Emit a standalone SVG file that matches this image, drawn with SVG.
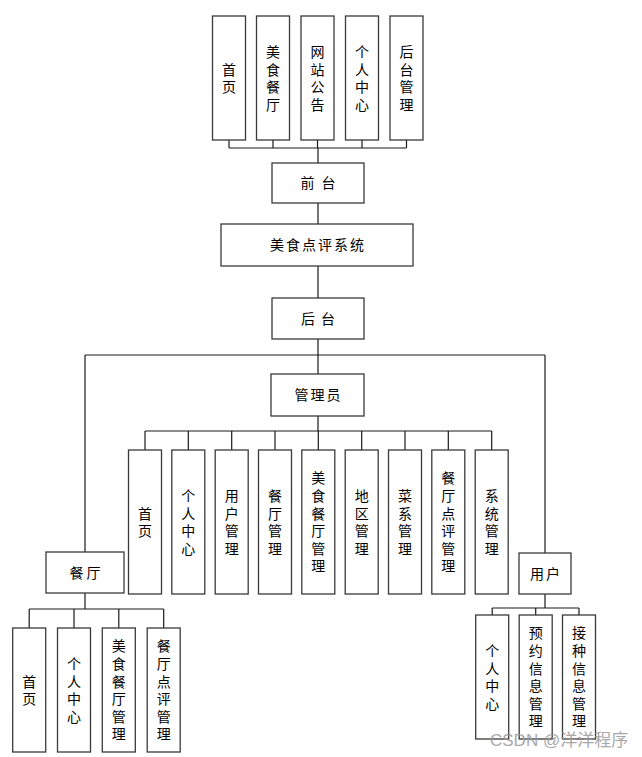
<svg xmlns="http://www.w3.org/2000/svg" width="642" height="757" viewBox="0 0 642 757">
<style>
.box{fill:#fff;stroke:#3a3a3a;stroke-width:1.3}
.t{font-family:"Noto Sans CJK SC","Noto Sans CJK JP",sans-serif;font-size:14px;fill:#000;text-anchor:middle}
.v{font-family:"Noto Sans CJK SC","Noto Sans CJK JP",sans-serif;font-size:14px;fill:#000;text-anchor:middle;writing-mode:vertical-rl;letter-spacing:3.6px}
.c{fill:none;stroke:#1a1a1a;stroke-width:1.2}
.wm{font-family:"Liberation Sans","Noto Sans CJK SC",sans-serif;font-size:17px;fill:#9a9a9a;opacity:0.85}
</style>
<rect width="642" height="757" fill="#fff"/>
<g id="connectors" class="c">
<path d="M229 140V148M273 140V148M317.5 140V148M362 140V148M406.5 140V148M229 148H406.5M318 148V163"/>
<path d="M318 203V224M318 266V298M318 339V374"/>
<path d="M85 355H545M85 355V552M545 355V553"/>
<path d="M318 416V431M145 431H491.7M145 431V450M188.3 431V450M231.7 431V450M275 431V450M318.3 431V450M361.7 431V450M405 431V450M448.3 431V450M491.7 431V450"/>
<path d="M85 593V609M29.2 609H163.7M29.2 609V628M74 609V628M118.8 609V628M163.7 609V628"/>
<path d="M545 594V608M492.2 608H579M492.2 608V615M535.7 608V615M579 608V615"/>
</g>
<g id="top-shouye"><rect class="box" x="212.5" y="16" width="33" height="124"/><text class="v" x="229" y="79.8">首页</text></g>
<g id="top-meishi"><rect class="box" x="256.5" y="16" width="33" height="124"/><text class="v" x="273" y="79.8">美食餐厅</text></g>
<g id="top-gonggao"><rect class="box" x="301" y="16" width="33" height="124"/><text class="v" x="317.5" y="79.8">网站公告</text></g>
<g id="top-geren"><rect class="box" x="345.5" y="16" width="33" height="124"/><text class="v" x="362" y="79.8">个人中心</text></g>
<g id="top-houtai"><rect class="box" x="390" y="16" width="33" height="124"/><text class="v" x="406.5" y="79.8">后台管理</text></g>
<g id="qiantai"><rect class="box" x="272" y="163" width="92" height="40"/><text class="t" x="321.5" y="188" letter-spacing="7">前台</text></g>
<g id="system"><rect class="box" x="221" y="224" width="192" height="42"/><text class="t" x="318" y="250" letter-spacing="2">美食点评系统</text></g>
<g id="houtai"><rect class="box" x="272" y="298" width="92" height="41"/><text class="t" x="321" y="323.5" letter-spacing="6">后台</text></g>
<g id="admin"><rect class="box" x="271" y="374" width="93" height="42"/><text class="t" x="318.5" y="400" letter-spacing="2">管理员</text></g>
<g id="a-shouye"><rect class="box" x="128.5" y="450" width="33" height="144"/><text class="v" x="145" y="523.8">首页</text></g>
<g id="a-geren"><rect class="box" x="171.8" y="450" width="33" height="144"/><text class="v" x="188.3" y="523.8">个人中心</text></g>
<g id="a-yonghu"><rect class="box" x="215.2" y="450" width="33" height="144"/><text class="v" x="231.7" y="523.8">用户管理</text></g>
<g id="a-canting"><rect class="box" x="258.5" y="450" width="33" height="144"/><text class="v" x="275" y="523.8">餐厅管理</text></g>
<g id="a-meishi"><rect class="box" x="301.8" y="450" width="33" height="144"/><text class="v" x="318.3" y="523.8">美食餐厅管理</text></g>
<g id="a-diqu"><rect class="box" x="345.2" y="450" width="33" height="144"/><text class="v" x="361.7" y="523.8">地区管理</text></g>
<g id="a-caixi"><rect class="box" x="388.5" y="450" width="33" height="144"/><text class="v" x="405" y="523.8">菜系管理</text></g>
<g id="a-dianping"><rect class="box" x="431.8" y="450" width="33" height="144"/><text class="v" x="448.3" y="523.8">餐厅点评管理</text></g>
<g id="a-xitong"><rect class="box" x="475.2" y="450" width="33" height="144"/><text class="v" x="491.7" y="523.8">系统管理</text></g>
<g id="canting"><rect class="box" x="46" y="552" width="78" height="41"/><text class="t" x="86.5" y="577.5" letter-spacing="3">餐厅</text></g>
<g id="c-shouye"><rect class="box" x="12.7" y="628" width="33" height="124"/><text class="v" x="29.2" y="691.8">首页</text></g>
<g id="c-geren"><rect class="box" x="57.5" y="628" width="33" height="124"/><text class="v" x="74" y="691.8">个人中心</text></g>
<g id="c-meishi"><rect class="box" x="102.3" y="628" width="33" height="124"/><text class="v" x="118.8" y="691.8">美食餐厅管理</text></g>
<g id="c-dianping"><rect class="box" x="147.2" y="628" width="33" height="124"/><text class="v" x="163.7" y="691.8">餐厅点评管理</text></g>
<g id="yonghu"><rect class="box" x="519" y="553" width="52" height="41"/><text class="t" x="546" y="578.5" letter-spacing="2">用户</text></g>
<g id="u-geren"><rect class="box" x="475.7" y="615" width="33" height="124"/><text class="v" x="492.2" y="678.8">个人中心</text></g>
<g id="u-yuyue"><rect class="box" x="519.2" y="615" width="33" height="124"/><text class="v" x="535.7" y="678.8">预约信息管理</text></g>
<g id="u-jiezhong"><rect class="box" x="562.5" y="615" width="33" height="124"/><text class="v" x="579" y="678.8">接种信息管理</text></g>
<text class="wm" x="490" y="746">CSDN @洋洋程序</text>
</svg>
